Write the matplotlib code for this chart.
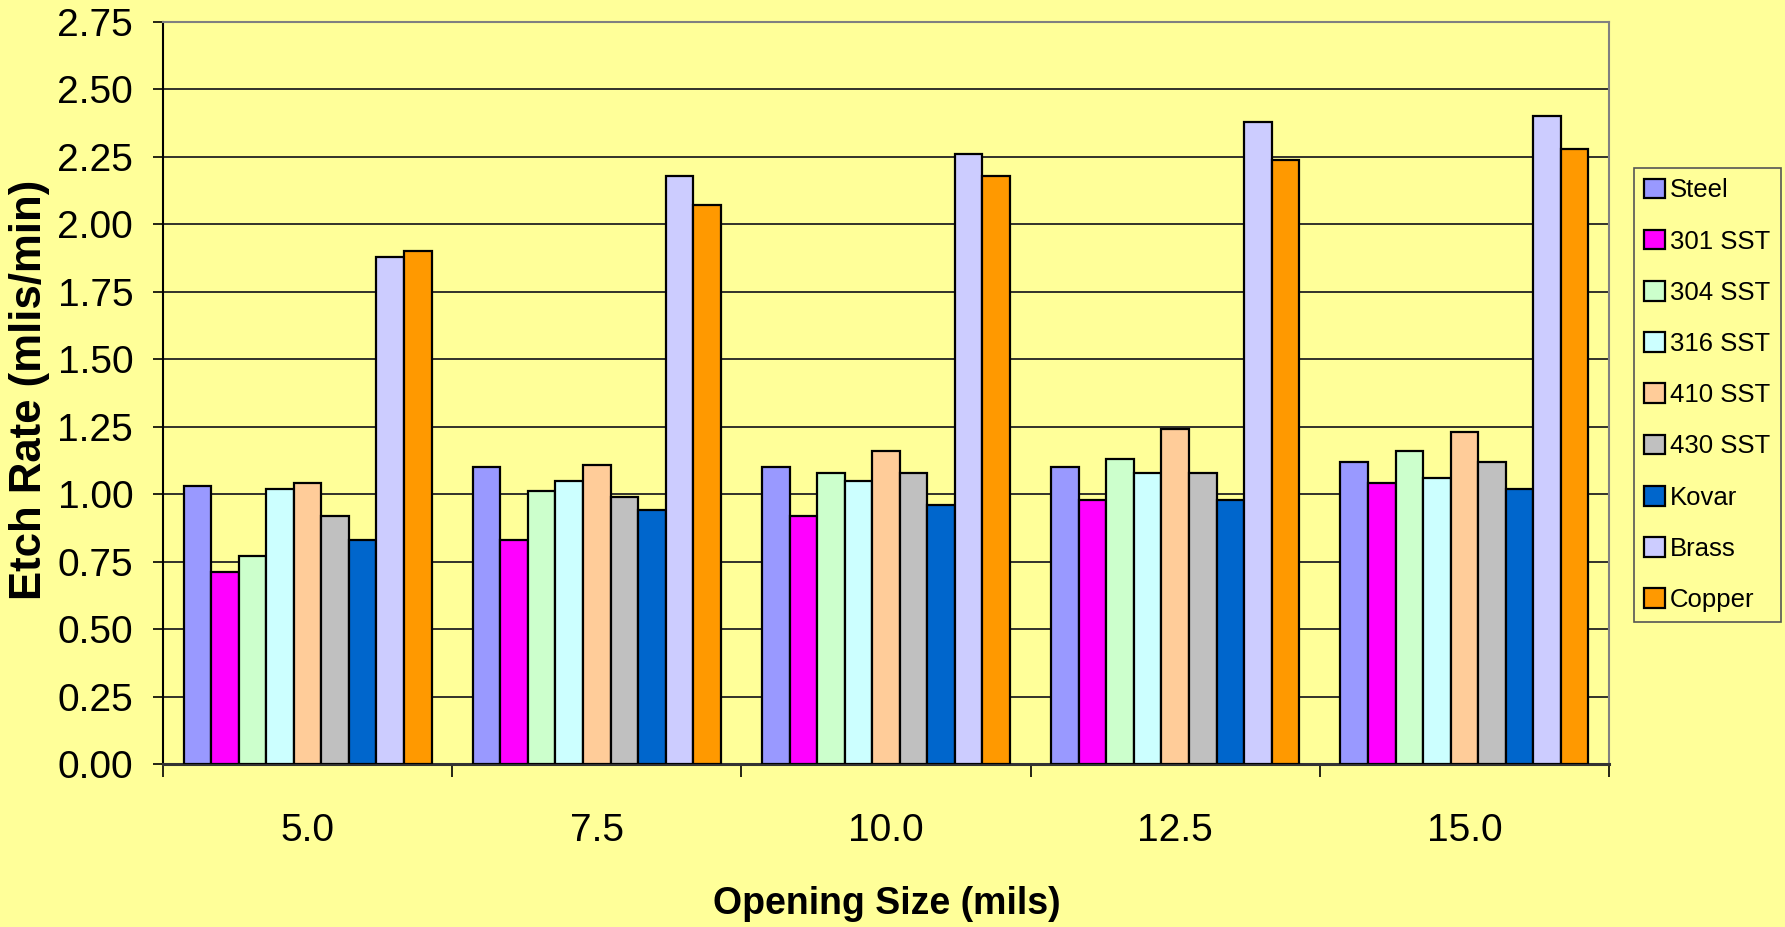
import numpy as np
import matplotlib
matplotlib.use("Agg")
import matplotlib.pyplot as plt
from matplotlib.ticker import FixedLocator, NullFormatter

# etch rate (mils/min) per opening size, one list per material
sizes = ["5.0", "7.5", "10.0", "12.5", "15.0"]
materials = ["Steel", "301 SST", "304 SST", "316 SST", "410 SST",
             "430 SST", "Kovar", "Brass", "Copper"]
steel = [1.03, 1.10, 1.10, 1.10, 1.12]
sst301 = [0.71, 0.83, 0.92, 0.98, 1.04]
sst304 = [0.77, 1.01, 1.08, 1.13, 1.16]
sst316 = [1.02, 1.05, 1.05, 1.08, 1.06]
sst410 = [1.04, 1.11, 1.16, 1.24, 1.23]
sst430 = [0.92, 0.99, 1.08, 1.08, 1.12]
kovar = [0.83, 0.94, 0.96, 0.98, 1.02]
brass = [1.88, 2.18, 2.26, 2.38, 2.40]
copper = [1.90, 2.07, 2.18, 2.24, 2.28]
series = [steel, sst301, sst304, sst316, sst410, sst430, kovar, brass, copper]

colors = ["#9999FF", "#FF00FF", "#CCFFCC", "#CCFFFF", "#FFCC99",
          "#C0C0C0", "#0066CC", "#CCCCFF", "#FF9900"]
bg = "#FFFF99"
narrow = ["Liberation Sans Narrow", "Liberation Sans", "DejaVu Sans"]
wide = ["Liberation Sans", "DejaVu Sans"]

fig = plt.figure(figsize=(17.85, 9.27), dpi=100, facecolor=bg)
ax = fig.add_axes([163 / 1785, 1 - 764 / 927, (1609 - 163) / 1785, (764 - 22) / 927])
ax.set_facecolor(bg)

n = len(series)
w = 1 / (n + 1.5)
x0 = np.arange(len(sizes)) + 0.75 * w
for j, (vals, c, name) in enumerate(zip(series, colors, materials)):
    ax.bar(x0 + j * w, vals, width=w, align="edge", color=c,
           edgecolor="black", linewidth=1.6, label=name, zorder=3)

ax.set_xlim(0, len(sizes))
ax.set_ylim(0, 2.75)
ax.set_yticks(np.arange(0, 2.76, 0.25))
ax.set_yticklabels([f"{v:.2f}" for v in np.arange(0, 2.76, 0.25)],
                   family=narrow, fontsize=28)
ax.yaxis.grid(True, color="#222222", linewidth=1.3, zorder=0)
ax.set_axisbelow(True)
ax.tick_params(axis="y", direction="out", length=7.5, width=1.2, pad=14)

# ticks between groups, labels under the group centres
ax.xaxis.set_major_locator(FixedLocator(np.arange(len(sizes) + 1)))
ax.xaxis.set_major_formatter(NullFormatter())
ax.xaxis.set_minor_locator(FixedLocator(np.arange(len(sizes)) + 0.5))
ax.set_xticklabels(sizes, minor=True, family=narrow, fontsize=28)
ax.tick_params(axis="x", which="major", direction="out", length=9.5, width=1.2)
ax.tick_params(axis="x", which="minor", length=0, pad=35)

for side in ("top", "right"):
    ax.spines[side].set_color("#808080")
    ax.spines[side].set_linewidth(1.5)
ax.spines["left"].set_linewidth(1.5)
ax.spines["bottom"].set_linewidth(2.2)
ax.spines["bottom"].set_color("#333333")

fig.text(30 / 1785, 1 - 390 / 927, "Etch Rate (mlis/min)", rotation=90,
         ha="center", va="center", family=wide, fontweight="bold", fontsize=31.5)
fig.text(887 / 1785, 1 - 904 / 927, "Opening Size (mils)",
         ha="center", va="center", family=narrow, fontweight="bold", fontsize=27)

leg = fig.legend(loc="upper left", bbox_to_anchor=(1634 / 1785, 1 - 168 / 927),
                 borderaxespad=0, prop={"family": wide, "size": 18.5},
                 frameon=True, fancybox=False, facecolor=bg, edgecolor="#555555",
                 framealpha=1, handlelength=0.8, handleheight=0.8,
                 handletextpad=0.2, labelspacing=1.06, borderpad=0.4)
leg.get_frame().set_linewidth(1.2)

fig.savefig("out.png", dpi=100, facecolor=bg)
